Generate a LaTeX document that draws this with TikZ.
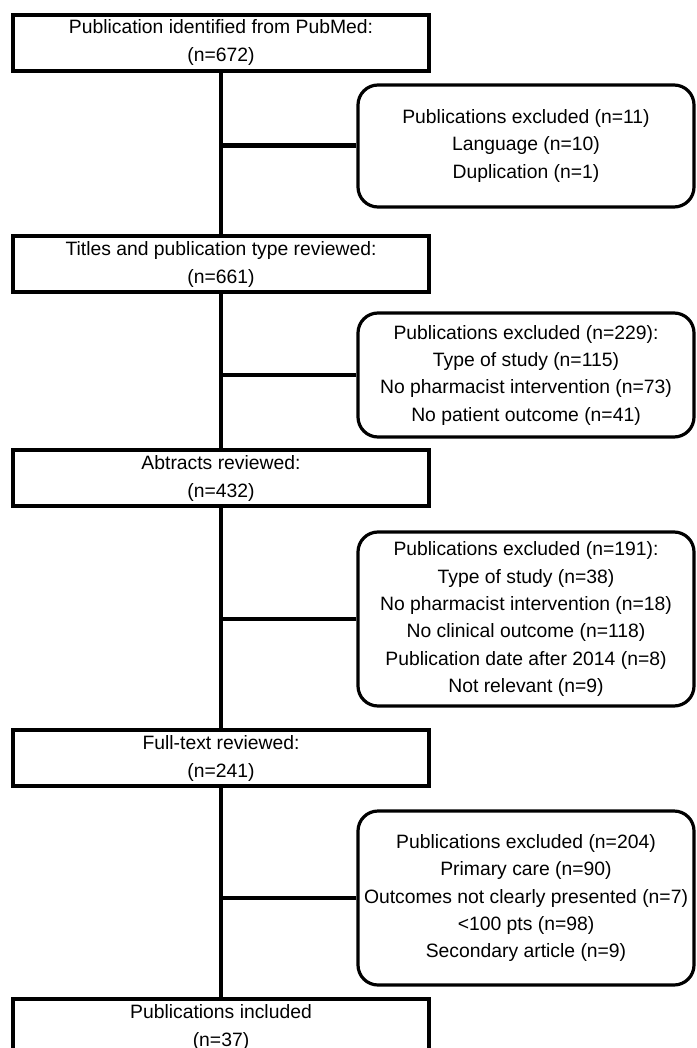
\documentclass[tikz,border=0pt]{standalone}
\usepackage{fontspec}
\setmainfont{Liberation Sans}
\usetikzlibrary{positioning,calc}

\begin{document}
\begin{tikzpicture}[x=0.75pt,y=-0.75pt,
  mainbox/.style={draw,line width=3.4pt,minimum width=312pt,minimum height=42pt,inner sep=0pt,align=center,font=\fontsize{14.5}{21}\selectfont},
  exclbox/.style={draw,line width=2.4pt,rounded corners=15pt,minimum width=252pt,inner sep=0pt,align=center,font=\fontsize{14.5}{20.5}\selectfont},
  link/.style={line width=2.5pt}]
  \useasboundingbox (0,0) rectangle (696,1048);
  \node[mainbox] (pubmed) at (221,43) {Publication identified from PubMed:\\(n=672)};
  \node[mainbox] (titles) at (221,264) {Titles and publication type reviewed:\\(n=661)};
  \node[mainbox] (abstr) at (221,478) {Abtracts reviewed:\\(n=432)};
  \node[mainbox] (fulltext) at (221,758) {Full-text reviewed:\\(n=241)};
  \node[mainbox] (incl) at (221,1027) {Publications included\\(n=37)};
  \node[exclbox,minimum height=91.5pt] (exlang) at (526,146) {Publications excluded (n=11)\\Language (n=10)\\Duplication (n=1)};
  \node[exclbox,minimum height=93pt] (extype) at (526,375) {Publications excluded (n=229):\\Type of study (n=115)\\No pharmacist intervention (n=73)\\No patient outcome (n=41)};
  \node[exclbox,minimum height=130.5pt] (exclin) at (526,619) {Publications excluded (n=191):\\Type of study (n=38)\\No pharmacist intervention (n=18)\\No clinical outcome (n=118)\\Publication date after 2014 (n=8)\\Not relevant (n=9)};
  \node[exclbox,minimum height=130.5pt] (excare) at (526,898) {Publications excluded (n=204)\\Primary care (n=90)\\Outcomes not clearly presented (n=7)\\<100 pts (n=98)\\Secondary article (n=9)};
  \draw[link] (pubmed.south) -- (titles.north);
  \draw[link] (titles.south) -- (abstr.north);
  \draw[link] (abstr.south) -- (fulltext.north);
  \draw[link] (fulltext.south) -- (incl.north);
  \draw[link,line width=3.75pt] (exlang.west) -- (exlang.west -| pubmed.south);
  \draw[link] (extype.west) -- (extype.west -| titles.south);
  \draw[link] (exclin.west) -- (exclin.west -| abstr.south);
  \draw[link] (excare.west) -- (excare.west -| fulltext.south);
\end{tikzpicture}
\end{document}
